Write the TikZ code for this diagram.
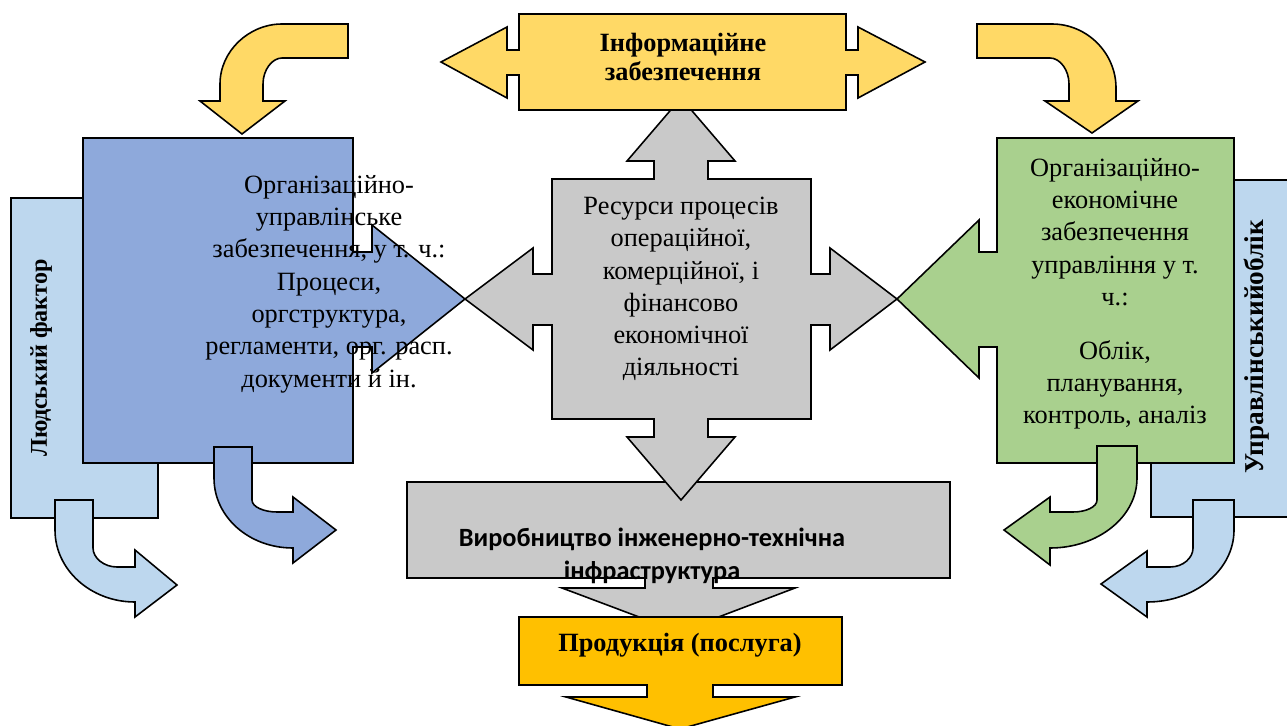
\documentclass[tikz,border=0pt]{standalone}
\usepackage{fontspec}
\setmainfont{Liberation Serif}
\newfontfamily\calibrifont{Carlito}
\definecolor{cyellow}{HTML}{FFD966}
\definecolor{cblue}{HTML}{8EA9DB}
\definecolor{clight}{HTML}{BDD7EE}
\definecolor{cgreen}{HTML}{A9D08E}
\definecolor{cgray}{HTML}{C9C9C9}
\definecolor{cgold}{HTML}{FFC000}
\begin{document}
\begin{tikzpicture}[x=0.02cm,y=-0.02cm,
  outl/.style={draw=black, line width=0.9pt, line join=miter},
  txt/.style={font=\fontsize{15}{18.4}\selectfont, align=center, inner sep=0pt},
  btxt/.style={font=\fontsize{15}{17}\selectfont\bfseries, align=center, inner sep=0pt},
]
\useasboundingbox (0,0) rectangle (1287,726);

% side boxes (behind)
\path[outl, fill=clight] (11,198) rectangle (158,518);
\path[outl, fill=clight] (1151,180) rectangle (1300,517);

% organisational-management callout (arrow to the right)
\path[outl, fill=cblue] (83,138) -- (353,138) -- (353,252) -- (372,252) -- (372,225)
  -- (465,299) -- (372,373) -- (372,347) -- (353,347) -- (353,463) -- (83,463) -- cycle;

% organisational-economic callout (arrow to the left)
\path[outl, fill=cgreen] (1234,138) -- (997,138) -- (997,252) -- (979,252) -- (979,220)
  -- (897,299) -- (979,378) -- (979,347) -- (997,347) -- (997,463) -- (1234,463) -- cycle;

% production box with down arrow
\path[outl, fill=cgray] (407,482) -- (950,482) -- (950,578) -- (713,578) -- (713,588)
  -- (795,588) -- (679,632) -- (562,588) -- (645,588) -- (645,578) -- (407,578) -- cycle;

% resources: quad arrow callout
\path[outl, fill=cgray] (552,179) -- (654,179) -- (654,161) -- (627,161) -- (681,98)
  -- (735,161) -- (708,161) -- (708,179) -- (811,179) -- (811,274) -- (830,274)
  -- (830,248) -- (897,299) -- (830,350) -- (830,325) -- (811,325) -- (811,419)
  -- (708,419) -- (708,437) -- (735,437) -- (681,500) -- (627,437) -- (654,437)
  -- (654,419) -- (552,419) -- (552,325) -- (533,325) -- (533,350) -- (465,299)
  -- (533,248) -- (533,274) -- (552,274) -- cycle;

% information support: left-right arrow callout
\path[outl, fill=cyellow] (519,14) -- (846,14) -- (846,50) -- (858,50) -- (858,27)
  -- (925,62) -- (858,98) -- (858,75) -- (846,75) -- (846,110) -- (519,110)
  -- (519,75) -- (507,75) -- (507,98) -- (441,62) -- (507,27) -- (507,50)
  -- (519,50) -- cycle;

% product box with down arrow
\path[outl, fill=cgold] (519,617) -- (842,617) -- (842,685) -- (713,685) -- (713,697)
  -- (795,697) -- (680,729) -- (566,697) -- (647,697) -- (647,685) -- (519,685) -- cycle;

% curved arrows
\path[outl, fill=cyellow] (348,24) -- (282,24) .. controls (249,24) and (220,51) .. (220,84)
  -- (220,101) -- (200,101) -- (242,134) -- (285,101) -- (263,101) -- (263,84)
  .. controls (263,70) and (272,58) .. (282,58) -- (348,58) -- cycle;
\path[outl, fill=cyellow] (977,24) -- (1052,24) .. controls (1087,24) and (1116,53) .. (1116,88)
  -- (1116,101) -- (1138,101) -- (1092,133) -- (1045,101) -- (1069,101) -- (1069,84)
  .. controls (1069,70) and (1060,58) .. (1050,58) -- (977,58) -- cycle;
\path[outl, fill=clight] (55,500) -- (55,530) .. controls (55,570) and (91,602) .. (135,602)
  -- (135,617) -- (177,585) -- (135,550) -- (135,567) -- (117,567)
  .. controls (104,567) and (93,558) .. (93,548) -- (93,500) -- cycle;
\path[outl, fill=cblue] (214,447) -- (214,478) .. controls (214,517) and (249,548) .. (293,548)
  -- (293,563) -- (336,530) -- (293,497) -- (293,512) -- (277,512)
  .. controls (264,512) and (252,507) .. (252,500) -- (252,447) -- cycle;
\path[outl, fill=cgreen] (1137,446) -- (1137,478) .. controls (1137,517) and (1098,548) .. (1050,548)
  -- (1050,565) -- (1004,530) -- (1050,497) -- (1050,512) -- (1073,512)
  .. controls (1086,512) and (1097,507) .. (1097,500) -- (1097,446) -- cycle;
\path[outl, fill=clight] (1234,500) -- (1234,530) .. controls (1234,570) and (1195,602) .. (1147,602)
  -- (1147,617) -- (1101,584) -- (1147,551) -- (1147,567) -- (1170,567)
  .. controls (1183,567) and (1193,558) .. (1193,548) -- (1193,500) -- cycle;

% labels
\node[font=\fontsize{13.7}{16}\selectfont\bfseries, inner sep=0pt, rotate=90] (human) at (41,358) {Людський фактор};
\node[font=\fontsize{15.5}{17}\selectfont\bfseries, inner sep=0pt, rotate=90] (mgmt) at (1257,347) {Управлінськийоблік};
\node[txt] (orgman) at (329,284) {Організаційно-\\управлінське\\забезпечення, у т. ч.:\\Процеси,\\оргструктура,\\регламенти, орг. расп.\\документи й ін.};
\node[txt] (res) at (681,289) {Ресурси процесів\\операційної,\\комерційної, і\\фінансово\\економічної\\діяльності};
\node[txt] (orgeco) at (1115,232) {Організаційно-\\економічне\\забезпечення\\управління у т.\\ч.:};
\node[txt] (acc) at (1115,385) {Облік,\\планування,\\контроль, аналіз};
\node[btxt] (info) at (683,57) {Інформаційне\\забезпечення};
\node[font=\calibrifont\fontsize{15}{18.7}\selectfont\bfseries, align=center, inner sep=0pt] (prod) at (652,556) {Виробництво інженерно-технічна\\інфраструктура};
\node[btxt] (out) at (680,645) {Продукція (послуга)};
\end{tikzpicture}
\end{document}
